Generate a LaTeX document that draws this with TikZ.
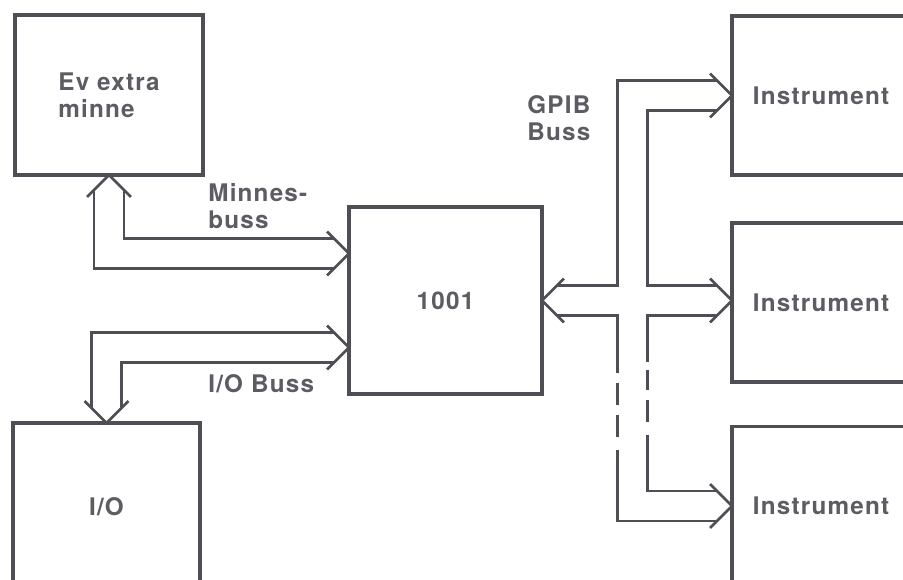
\documentclass[tikz,border=0pt]{standalone}
\usepackage{fontspec}
\setmainfont{TeX Gyre Heros}[LetterSpace=5]
\usetikzlibrary{calc}
\definecolor{ink}{RGB}{78,78,84}
\definecolor{inktext}{RGB}{92,92,98}

\begin{document}
\begin{tikzpicture}[x=0.02cm,y=-0.02cm,
  unit/.style={rectangle,draw=ink,line width=2.1pt,inner sep=0pt,outer sep=0pt,
    text=inktext,font=\fontsize{13.8}{15.6}\selectfont\bfseries,align=left},
  lbl/.style={text=inktext,font=\fontsize{13.8}{15.6}\selectfont\bfseries,
    align=left,inner sep=0pt},
  bus/.style={draw=ink,line width=1.5pt,line join=miter}
]
\useasboundingbox (0,0) rectangle (903,580);
\fill[white] (0,0) rectangle (903,580);
\clip (0,0) rectangle (903,580);

% units
\node[unit,minimum width=3.76cm,minimum height=3.2cm] (ev) at (109,95) {Ev extra\\minne};
\node[unit,minimum width=3.74cm,minimum height=3.36cm] (io) at (106.5,507) {I/O};
\node[unit,minimum width=3.86cm,minimum height=3.74cm] (cpu) at (445.5,300.5) {1001};
\foreach \name/\y in {ia/95.5,ib/302.5,ic/506}
  \node[unit,minimum width=3.56cm,minimum height=3.18cm] (\name) at (821,\y) {Instrument};

% labels
\node[lbl,anchor=west] (lmem) at (208,206) {Minnes-\\buss};
\node[lbl,anchor=base west] (lio) at (208,393) {I/O Buss};
\node[lbl,anchor=west] (lgpib) at (527,118) {GPIB\\Buss};

% arrow tips
\coordinate (memtip) at (ev.south);
\coordinate (iotip) at (io.north);
\coordinate (cmem) at ($(cpu.west)+(0,-47)$);
\coordinate (cio) at ($(cpu.west)+(0,47)$);
\coordinate (cgpib) at (cpu.east);
\coordinate (ta) at (ia.west);
\coordinate (tb) at (ib.west |- cpu.east);
\coordinate (tc) at (ic.west);
\coordinate (gl) at (617.5,0);
\coordinate (gr) at (647.5,0);

% Minnesbuss
\draw[bus] ($(memtip)+(-22,22)$) -- (memtip) -- ++(22,22);
\draw[bus] ($(cmem)+(-22,-22)$) -- (cmem) -- ++(-22,22);
\draw[bus] ($(memtip)+(-15,15)$) |- ($(cmem)+(-15,15)$);
\draw[bus] ($(memtip)+(15,15)$) |- ($(cmem)+(-15,-15)$);

% I/O Buss
\draw[bus] ($(iotip)+(-22,-22)$) -- (iotip) -- ++(22,-22);
\draw[bus] ($(cio)+(-22,-22)$) -- (cio) -- ++(-22,22);
\draw[bus] ($(iotip)+(-15,-15)$) |- ($(cio)+(-15,-15)$);
\draw[bus] ($(iotip)+(15,-15)$) |- ($(cio)+(-15,15)$);

% GPIB Buss
\draw[bus] ($(cgpib)+(22,-22)$) -- (cgpib) -- ++(22,22);
\foreach \t in {ta,tb,tc}
  \draw[bus] ($(\t)+(-22,-22)$) -- (\t) -- ++(-22,22);
\draw[bus] ($(cgpib)+(15,-15)$) -| ($(gl |- ta)+(0,-15)$) -- ($(ta)+(-15,-15)$);
\draw[bus] ($(ta)+(-15,15)$) -| ($(gr |- tb)+(0,-15)$) -- ($(tb)+(-15,-15)$);
\draw[bus] ($(cgpib)+(15,15)$) -| ($(gl)+(0,373)$);
\draw[bus] ($(tb)+(-15,15)$) -| ($(gr)+(0,362)$);
\foreach \a/\b in {383/405,415/437}
  \draw[bus] ($(gl)+(0,\a)$) -- ($(gl)+(0,\b)$);
\foreach \a/\b in {370/390,400/422}
  \draw[bus] ($(gr)+(0,\a)$) -- ($(gr)+(0,\b)$);
\draw[bus] ($(gl)+(0,450)$) |- ($(tc)+(-15,15)$);
\draw[bus] ($(gr)+(0,435)$) |- ($(tc)+(-15,-15)$);
\end{tikzpicture}
\end{document}
